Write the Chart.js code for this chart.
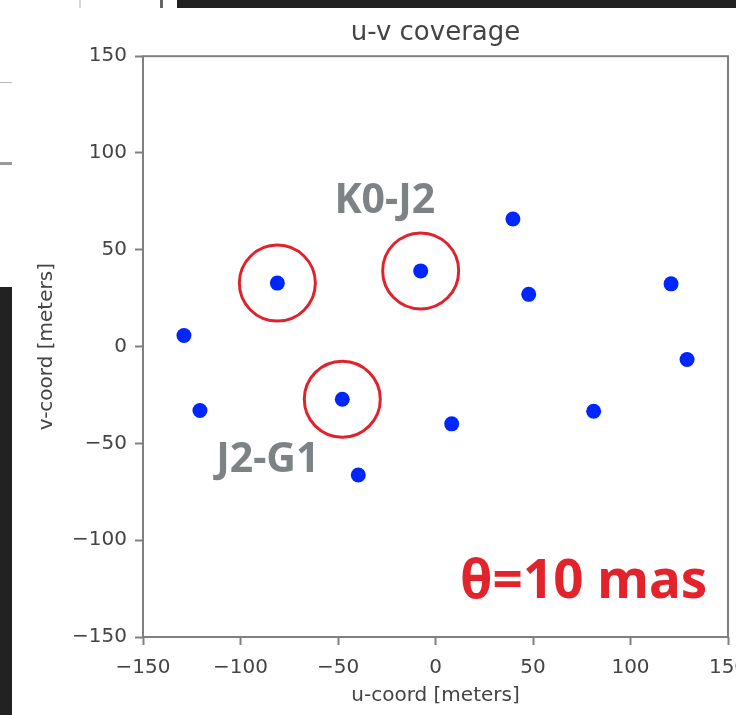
<!DOCTYPE html>
<html>
<head>
<meta charset="utf-8">
<title>u-v coverage</title>
<script src="https://cdn.jsdelivr.net/npm/chart.js@4.4.1/dist/chart.umd.min.js"></script>
<style>
  html, body { margin: 0; padding: 0; background: #fff; overflow: hidden; width: 736px; height: 715px; }
  .bg { position: absolute; }
  #wrap { position: absolute; left: 0; top: 0; width: 760px; height: 715px; }
</style>
</head>
<body>
<!-- bits of the surrounding screenshot -->
<div class="bg" style="left:177px;top:0;width:559px;height:8px;background:#222"></div>
<div class="bg" style="left:79px;top:0;width:2px;height:8px;background:#d8d8d8"></div>
<div class="bg" style="left:160px;top:0;width:3px;height:8px;background:#666"></div>
<div class="bg" style="left:0;top:82px;width:12px;height:1px;background:#bbb"></div>
<div class="bg" style="left:0;top:162px;width:12px;height:3px;background:#999"></div>
<div class="bg" style="left:0;top:287px;width:12px;height:428px;background:#222"></div>

<div id="wrap"><canvas id="uv"></canvas></div>

<script>
// baselines in the u-v plane (meters)
const uCoord = [-129, -120.8, -81.1, -47.8, -39.6, -7.6, 8.3, 39.7, 47.8, 81.1, 120.8, 129];
const vCoord = [5.7, -33, 32.8, -27.2, -66.3, 39.1, -39.9, 65.9, 27, -33.4, 32.4, -6.7];
// which baselines get a red ring
const circled = [2, 5, 3];
const tickValues = [-150, -100, -50, 0, 50, 100, 150];
// annotation texts, anchored in data coords
const noteTexts = ['K0-J2', 'J2-G1', 'θ=10 mas'];
const noteU = [-26, -86, 76];
const noteV = [75, -58.5, -122];

const axisFont = { family: 'DejaVu Sans', size: 20 };
const textGray = '#444';
const spine = '#808080';

function fmt(v) {
  return v < 0 ? '\u2212' + Math.abs(v) : String(v);
}

const frame = {
  id: 'frame',
  beforeDatasetsDraw(chart) {
    const { ctx, chartArea: a } = chart;
    ctx.save();
    ctx.strokeStyle = spine;
    ctx.lineWidth = 2;
    ctx.strokeRect(a.left, a.top, a.right - a.left, a.bottom - a.top);
    ctx.restore();
  },
  afterDatasetsDraw(chart) {
    const { ctx, scales: { x, y } } = chart;
    const styles = [
      { font: 'bold 41px "Noto Sans"', color: '#7d8284' },
      { font: 'bold 41px "Noto Sans"', color: '#7d8284' },
      { font: 'bold 53px "Noto Sans"', color: '#e3232c' }
    ];
    ctx.save();
    ctx.textAlign = 'center';
    ctx.textBaseline = 'middle';
    noteTexts.forEach((t, i) => {
      ctx.font = styles[i].font;
      ctx.fillStyle = styles[i].color;
      ctx.fillText(t, x.getPixelForValue(noteU[i]), y.getPixelForValue(noteV[i]));
    });
    ctx.restore();
  }
};

const pts = uCoord.map((u, i) => ({ x: u, y: vCoord[i] }));
const rings = circled.map(i => ({ x: uCoord[i], y: vCoord[i] }));

new Chart(document.getElementById('uv'), {
  type: 'scatter',
  data: {
    datasets: [
      {
        label: 'rings',
        data: rings,
        pointRadius: 38,
        pointBackgroundColor: 'rgba(0,0,0,0)',
        pointBorderColor: '#e0222c',
        pointBorderWidth: 3
      },
      {
        label: 'uv',
        data: pts,
        pointRadius: 7.5,
        pointBackgroundColor: '#0026ff',
        pointBorderWidth: 0
      }
    ]
  },
  options: {
    responsive: true,
    maintainAspectRatio: false,
    animation: false,
    events: [],
    layout: { autoPadding: false, padding: { left: 0, right: 32, top: 0, bottom: 0 } },
    plugins: {
      legend: { display: false },
      tooltip: { enabled: false },
      title: {
        display: true,
        text: 'u-v coverage',
        fullSize: false,
        color: textGray,
        font: { family: 'DejaVu Sans', size: 26, weight: 'normal' },
        padding: { top: 18, bottom: 7 }
      }
    },
    scales: {
      x: {
        type: 'linear',
        min: -150,
        max: 150,
        afterBuildTicks: s => { s.ticks = tickValues.map(v => ({ value: v })); },
        afterFit: s => { s.height = 78; },
        border: { display: false },
        grid: { drawOnChartArea: false, drawTicks: true, tickLength: 8, tickColor: spine, tickWidth: 2 },
        ticks: { color: textGray, font: axisFont, padding: 11, maxRotation: 0, callback: fmt },
        title: { display: true, text: 'u-coord [meters]', color: textGray, font: axisFont, padding: { top: 0, bottom: 7 } }
      },
      y: {
        type: 'linear',
        min: -150,
        max: 150,
        afterBuildTicks: s => { s.ticks = tickValues.map(v => ({ value: v })); },
        afterFit: s => { s.width = 143; },
        border: { display: false },
        grid: { drawOnChartArea: false, drawTicks: true, tickLength: 8, tickColor: spine, tickWidth: 2 },
        ticks: { color: textGray, font: axisFont, padding: 8, callback: fmt },
        title: { display: true, text: 'v-coord [meters]', color: textGray, font: axisFont, padding: { top: 35, bottom: 0 } }
      }
    }
  },
  plugins: [frame]
});
</script>
</body>
</html>
